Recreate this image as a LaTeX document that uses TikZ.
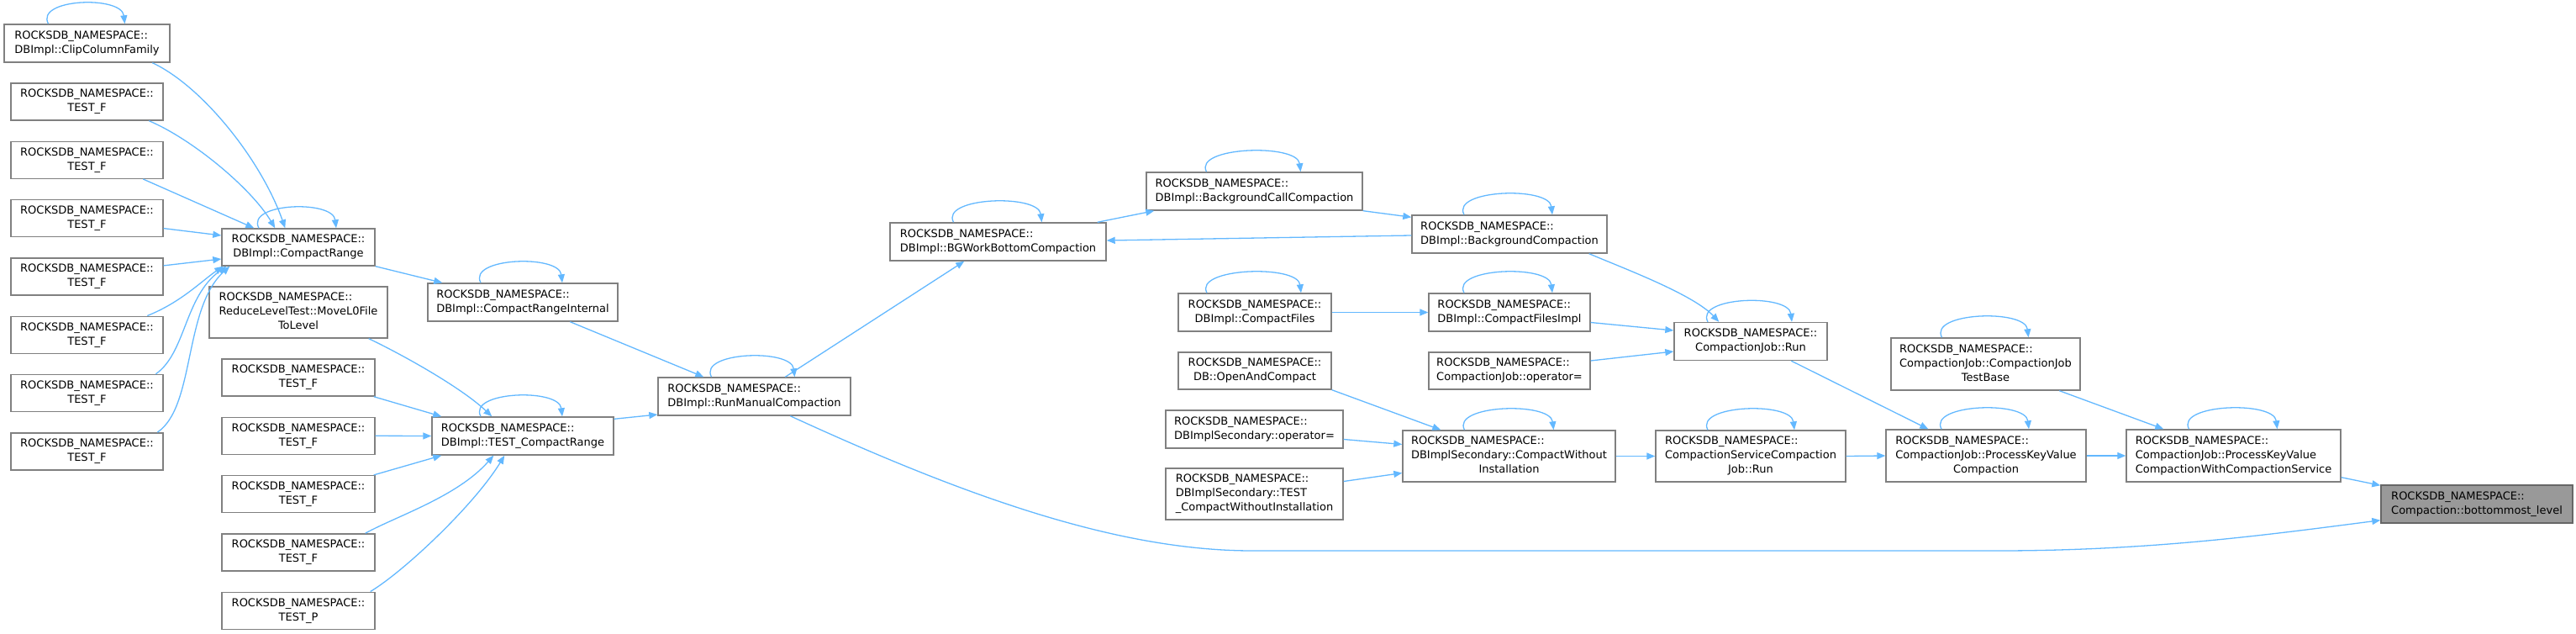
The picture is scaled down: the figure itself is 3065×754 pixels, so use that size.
\documentclass[tikz,border=0pt]{standalone}
\usepackage{fontspec}
\setmainfont{DejaVu Sans}
\usetikzlibrary{arrows.meta, calc}

\definecolor{edgeblue}{HTML}{63B8FF}
\definecolor{boxline}{HTML}{808080}
\definecolor{rootfill}{HTML}{999999}

\tikzset{
  fn/.style 2 args={draw=boxline, line width=1.4pt, fill=white, inner sep=0pt,
    minimum width=#1pt, minimum height=#2pt, font=\fontsize{13}{17}\selectfont},
  rootfn/.style={fill=rootfill, draw=boxline!80!black},
  call/.style={->, >={Triangle[length=10pt, width=8pt]}, edgeblue, line width=1.3pt},
}

% label: namespace line, optional left lines, centred last line
\newcommand{\nslabel}[2][]{\begin{tabular}{@{}l@{}}ROCKSDB\_NAMESPACE::\\#1\multicolumn{1}{@{}c@{}}{#2}\end{tabular}}

\begin{document}
\begin{tikzpicture}[x=1pt, y=-1pt]
    \useasboundingbox (0,0) rectangle (3065,754);

    % Callers of CompactRange
    \node[fn={197}{45}] (ccf) at (103.5,51.5) {\nslabel{DBImpl::ClipColumnFamily}};
    \node[fn={181}{44}] (tf1) at (103.5,121) {\nslabel{TEST\_F}};
    \node[fn={181}{44}] (tf2) at (103.5,190.3) {\nslabel{TEST\_F}};
    \node[fn={181}{44}] (tf3) at (103.5,259.6) {\nslabel{TEST\_F}};
    \node[fn={181}{44}] (tf4) at (103.5,328.9) {\nslabel{TEST\_F}};
    \node[fn={181}{44}] (tf5) at (103.5,398.2) {\nslabel{TEST\_F}};
    \node[fn={181}{44}] (tf6) at (103.5,467.5) {\nslabel{TEST\_F}};
    \node[fn={181}{44}] (tf7) at (103.5,536.8) {\nslabel{TEST\_F}};

    % Second column
    \node[fn={182}{44}] (cr) at (355,294) {\nslabel{DBImpl::CompactRange}};
    \node[fn={212}{61}] (rlt) at (355,371.5) {\nslabel[ReduceLevelTest::MoveL0File\\]{ToLevel}};
    \node[fn={182}{44}] (tg1) at (355,449) {\nslabel{TEST\_F}};
    \node[fn={182}{44}] (tg2) at (355,518.3) {\nslabel{TEST\_F}};
    \node[fn={182}{44}] (tg3) at (355,587.6) {\nslabel{TEST\_F}};
    \node[fn={182}{44}] (tg4) at (355,656.9) {\nslabel{TEST\_F}};
    \node[fn={182}{44}] (tp) at (355,726.2) {\nslabel{TEST\_P}};

    % Manual compaction path
    \node[fn={226}{45}] (cri) at (622,359.5) {\nslabel{DBImpl::CompactRangeInternal}};
    \node[fn={216}{45}] (tcr) at (622,518.5) {\nslabel{DBImpl::TEST\_CompactRange}};
    \node[fn={229}{45}] (rmc) at (897.5,471.5) {\nslabel{DBImpl::RunManualCompaction}};
    \node[fn={257}{45}] (bgw) at (1187.5,287.5) {\nslabel{DBImpl::BGWorkBottomCompaction}};
    \node[fn={257}{45}] (bcc) at (1492.5,227.5) {\nslabel{DBImpl::BackgroundCallCompaction}};
    \node[fn={232}{45}] (bgc) at (1796,278.5) {\nslabel{DBImpl::BackgroundCompaction}};

    % CompactFiles and secondary
    \node[fn={182}{45}] (cf) at (1493,371.5) {\nslabel{DBImpl::CompactFiles}};
    \node[fn={182}{44}] (oac) at (1493,441) {\nslabel{DB::OpenAndCompact}};
    \node[fn={211}{45}] (dso) at (1492.5,510.5) {\nslabel{DBImplSecondary::operator=}};
    \node[fn={211}{61}] (dst) at (1492.5,587.5) {\nslabel[DBImplSecondary::TEST\\]{\_CompactWithoutInstallation}};
    \node[fn={192}{45}] (cfi) at (1796,371.5) {\nslabel{DBImpl::CompactFilesImpl}};
    \node[fn={192}{44}] (cjo) at (1796,441) {\nslabel{CompactionJob::operator=}};
    \node[fn={253}{61}] (cwi) at (1795.5,542.5) {\nslabel[DBImplSecondary::CompactWithout\\]{Installation}};

    % Compaction jobs
    \node[fn={182}{45}] (cjr) at (2083,406) {\nslabel{CompactionJob::Run}};
    \node[fn={226}{61}] (cscr) at (2083,542.5) {\nslabel[CompactionServiceCompaction\\]{Job::Run}};
    \node[fn={225}{62}] (cjtb) at (2362.5,433) {\nslabel[CompactionJob::CompactionJob\\]{TestBase}};
    \node[fn={238}{62}] (pkv) at (2363,542) {\nslabel[CompactionJob::ProcessKeyValue\\]{Compaction}};
    \node[fn={255}{62}] (pkvs) at (2657.5,542) {\nslabel[CompactionJob::ProcessKeyValue\\]{CompactionWithCompactionService}};
    \node[fn={228}{45}, rootfn] (bml) at (2947,599.5) {\nslabel{Compaction::bottommost\_level}};

    % Self calls
    \draw[call] ($(ccf.north)+(-46,0)$) .. controls +(-16,-30) and +(-4,-34) .. ($(ccf.north)+(45,0)$);
    \draw[call] ($(cr.north)+(-47,0)$) .. controls +(-16,-30) and +(-4,-34) .. ($(cr.north)+(45,0)$);
    \draw[call] ($(cri.north)+(-50,0)$) .. controls +(-16,-30) and +(-4,-34) .. ($(cri.north)+(47,0)$);
    \draw[call] ($(tcr.north)+(-50,0)$) .. controls +(-16,-30) and +(-4,-34) .. ($(tcr.north)+(47,0)$);
    \draw[call] ($(rmc.north)+(-51,0)$) .. controls +(-16,-30) and +(-4,-34) .. ($(rmc.north)+(48,0)$);
    \draw[call] ($(bgw.north)+(-53,0)$) .. controls +(-16,-30) and +(-4,-34) .. ($(bgw.north)+(52,0)$);
    \draw[call] ($(bcc.north)+(-57,0)$) .. controls +(-16,-30) and +(-4,-34) .. ($(bcc.north)+(55,0)$);
    \draw[call] ($(bgc.north)+(-54,0)$) .. controls +(-16,-30) and +(-4,-34) .. ($(bgc.north)+(51,0)$);
    \draw[call] ($(cf.north)+(-57,0)$) .. controls +(-16,-30) and +(-4,-34) .. ($(cf.north)+(55,0)$);
    \draw[call] ($(cfi.north)+(-54,0)$) .. controls +(-16,-30) and +(-4,-34) .. ($(cfi.north)+(51,0)$);
    \draw[call] ($(cjr.north)+(-51,0)$) .. controls +(-16,-30) and +(-4,-34) .. ($(cjr.north)+(49,0)$);
    \draw[call] ($(cwi.north)+(-53,0)$) .. controls +(-16,-30) and +(-4,-34) .. ($(cwi.north)+(53,0)$);
    \draw[call] ($(cscr.north)+(-51,0)$) .. controls +(-16,-30) and +(-4,-34) .. ($(cscr.north)+(52,0)$);
    \draw[call] ($(cjtb.north)+(-52,0)$) .. controls +(-16,-30) and +(-4,-34) .. ($(cjtb.north)+(51,0)$);
    \draw[call] ($(pkv.north)+(-53,0)$) .. controls +(-16,-30) and +(-4,-34) .. ($(pkv.north)+(51,0)$);
    \draw[call] ($(pkvs.north)+(-53,0)$) .. controls +(-16,-30) and +(-4,-34) .. ($(pkvs.north)+(52,0)$);

    % Into CompactRange
    \draw[call] ($(ccf.south west)+(177,0)$) .. controls +(60,28) and +(-28,-80) .. ($(cr.north west)+(76,0)$);
    \draw[call] ($(tf1.south west)+(165,0)$) .. controls +(52,22) and +(-28,-47) .. ($(cr.north west)+(64,0)$);
    \draw[call] ($(tf2.south west)+(158,0)$) -- ($(cr.north west)+(39,0)$);
    \draw[call] ($(tf3.east)+(0,12)$) -- ($(cr.west)+(0,-14)$);
    \draw[call] ($(tf4.east)+(0,-13)$) -- ($(cr.west)+(0,14)$);
    \draw[call] ($(tf5.north west)+(163,0)$) .. controls +(40,-16) and +(-26,18) .. ($(cr.south west)+(2,0)$);
    \draw[call] ($(tf6.north west)+(173,0)$) .. controls +(36,-25) and +(-50,36) .. ($(cr.south west)+(6,0)$);
    \draw[call] ($(tf7.north west)+(175,0)$) .. controls +(45,-30) and +(-55,50) .. ($(cr.south west)+(10,0)$);
    \draw[call] (cr.south east) -- ($(cri.north west)+(18,0)$);

    % Into TEST_CompactRange
    \draw[call] ($(rlt.south east)+(-23,0)$) .. controls +(42,20) and +(-36,-34) .. ($(tcr.north west)+(72,0)$);
    \draw[call] ($(tg1.south east)+(-2,0)$) -- ($(tcr.north west)+(12,0)$);
    \draw[call] (tg2.east) -- (tcr.west);
    \draw[call] ($(tg3.north east)+(-2,0)$) -- ($(tcr.south west)+(12,0)$);
    \draw[call] ($(tg4.north east)+(-12,0)$) .. controls +(36,-20) and +(-43,49) .. ($(tcr.south west)+(74,0)$);
    \draw[call] ($(tp.north east)+(-6,0)$) .. controls +(40,-24) and +(-36,59) .. ($(tcr.south west)+(87,0)$);

    % RunManualCompaction
    \draw[call] ($(tcr.north east)+(0,3)$) -- ($(rmc.west)+(0,21.5)$);
    \draw[call] ($(cri.south west)+(170,0)$) -- ($(rmc.north west)+(55,0)$);
    \draw[call] ($(rmc.north west)+(152,0)$) -- ($(bgw.south west)+(89,0)$);
    \coordinate (dip1) at (1490,655);
    \coordinate (dip2) at (2378,655);
    \draw[call] ($(rmc.south west)+(158,0)$) .. controls +(209,96) and +(-160,0) .. (dip1) -- (dip2)
        .. controls +(182,0) and +(-132,17) .. ($(bml.south west)+(0,-4)$);

    % Background compaction
    \draw[call] ($(bgw.north east)+(-11,0)$) -- ($(bcc.south west)+(10,0)$);
    \draw[call] (bcc.south east) -- ($(bgc.north west)+(0,3)$);
    \draw[call] ($(bgc.west)+(0,1.5)$) -- ($(bgw.east)+(0,-1.5)$);
    \draw[call] ($(bgc.south east)+(-22,0)$) .. controls +(40,17) and +(-31,-33) .. ($(cjr.north west)+(54,0)$);

    % CompactionJob::Run
    \draw[call] (cf.east) -- (cfi.west);
    \draw[call] ($(cfi.east)+(0,12)$) -- ($(cjr.west)+(0,-13)$);
    \draw[call] ($(cjo.east)+(0,-12)$) -- ($(cjr.west)+(0,12)$);
    \draw[call] ($(cjr.south west)+(140,0)$) -- ($(pkv.north west)+(51,0)$);

    % CompactWithoutInstallation
    \draw[call] (oac.south east) -- ($(cwi.north west)+(46,0)$);
    \draw[call] ($(dso.east)+(0,12)$) -- ($(cwi.west)+(0,-14)$);
    \draw[call] ($(dst.east)+(0,-15)$) -- ($(cwi.west)+(0,20)$);
    \draw[call] (cwi.east) -- (cscr.west);
    \draw[call] (cscr.east) -- (pkv.west);

    % Towards bottommost_level
    \draw[call] (pkv.east) -- (pkvs.west);
    \draw[call] ($(cjtb.south west)+(201,0)$) -- ($(pkvs.north west)+(45,0)$);
    \draw[call] ($(pkvs.south east)+(0,-6)$) -- ($(bml.north west)+(0,1)$);
\end{tikzpicture}
\end{document}
